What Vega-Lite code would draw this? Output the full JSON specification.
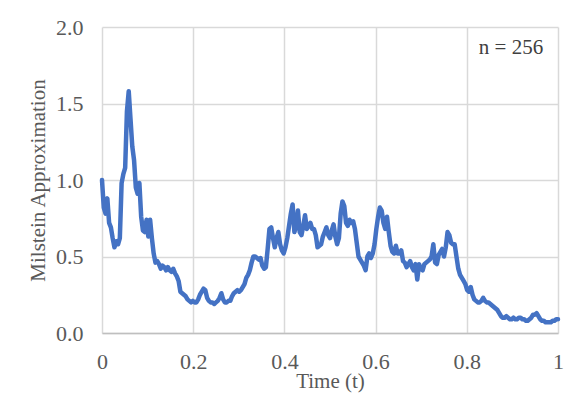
{
  "$schema": "https://vega.github.io/schema/vega-lite/v6.json",
  "autosize": {"type": "none"},
  "padding": {"left": 102, "top": 27, "right": 21, "bottom": 61},
  "width": 456,
  "height": 306,
  "background": "white",
  "config": {
    "font": "Liberation Serif",
    "view": {"stroke": null},
    "axis": {
      "labelFont": "Liberation Serif",
      "titleFont": "Liberation Serif",
      "labelColor": "#595959",
      "titleColor": "#595959",
      "titleFontWeight": "normal",
      "gridColor": "#d9d9d9",
      "gridWidth": 1.5,
      "ticks": false
    }
  },
  "layer": [
    {
      "data": {
        "values": [
          {"t":0,"y":1.00},{"t":0.0039,"y":0.82},{"t":0.0078,"y":0.78},{"t":0.0117,"y":0.88},{"t":0.0156,"y":0.72},
          {"t":0.0195,"y":0.69},{"t":0.0234,"y":0.62},{"t":0.0273,"y":0.56},{"t":0.0313,"y":0.60},{"t":0.0352,"y":0.58},
          {"t":0.0391,"y":0.62},{"t":0.043,"y":0.98},{"t":0.0469,"y":1.04},{"t":0.0508,"y":1.08},{"t":0.0547,"y":1.45},
          {"t":0.0586,"y":1.58},{"t":0.0625,"y":1.40},{"t":0.0664,"y":1.22},{"t":0.0703,"y":1.13},{"t":0.0742,"y":0.95},
          {"t":0.0781,"y":0.91},{"t":0.082,"y":0.98},{"t":0.0859,"y":0.76},{"t":0.0898,"y":0.67},{"t":0.0938,"y":0.66},
          {"t":0.0977,"y":0.74},{"t":0.1016,"y":0.63},{"t":0.1055,"y":0.74},{"t":0.1094,"y":0.62},{"t":0.1133,"y":0.52},
          {"t":0.1172,"y":0.46},{"t":0.1211,"y":0.47},{"t":0.125,"y":0.45},{"t":0.1289,"y":0.42},{"t":0.1328,"y":0.44},
          {"t":0.1367,"y":0.43},{"t":0.1406,"y":0.41},{"t":0.1445,"y":0.43},{"t":0.1484,"y":0.41},{"t":0.1523,"y":0.40},
          {"t":0.1563,"y":0.42},{"t":0.1602,"y":0.39},{"t":0.1641,"y":0.37},{"t":0.168,"y":0.34},{"t":0.1719,"y":0.27},
          {"t":0.1758,"y":0.26},{"t":0.1797,"y":0.25},{"t":0.1836,"y":0.24},{"t":0.1875,"y":0.22},{"t":0.1914,"y":0.21},
          {"t":0.1953,"y":0.20},{"t":0.1992,"y":0.21},{"t":0.2031,"y":0.20},{"t":0.207,"y":0.20},{"t":0.2109,"y":0.22},
          {"t":0.2148,"y":0.25},{"t":0.2188,"y":0.27},{"t":0.2227,"y":0.29},{"t":0.2266,"y":0.28},{"t":0.2305,"y":0.23},
          {"t":0.2344,"y":0.21},{"t":0.2383,"y":0.20},{"t":0.2422,"y":0.20},{"t":0.2461,"y":0.19},{"t":0.25,"y":0.20},
          {"t":0.2539,"y":0.21},{"t":0.2578,"y":0.23},{"t":0.2617,"y":0.26},{"t":0.2656,"y":0.22},{"t":0.2695,"y":0.20},
          {"t":0.2734,"y":0.20},{"t":0.2773,"y":0.21},{"t":0.2813,"y":0.21},{"t":0.2852,"y":0.24},{"t":0.2891,"y":0.26},
          {"t":0.293,"y":0.27},{"t":0.2969,"y":0.28},{"t":0.3008,"y":0.27},{"t":0.3047,"y":0.28},{"t":0.3086,"y":0.30},
          {"t":0.3125,"y":0.32},{"t":0.3164,"y":0.36},{"t":0.3203,"y":0.38},{"t":0.3242,"y":0.41},{"t":0.3281,"y":0.46},
          {"t":0.332,"y":0.50},{"t":0.3359,"y":0.50},{"t":0.3398,"y":0.49},{"t":0.3438,"y":0.48},{"t":0.3477,"y":0.49},
          {"t":0.3516,"y":0.44},{"t":0.3555,"y":0.42},{"t":0.3594,"y":0.43},{"t":0.3633,"y":0.55},{"t":0.3672,"y":0.68},
          {"t":0.3711,"y":0.69},{"t":0.375,"y":0.62},{"t":0.3789,"y":0.56},{"t":0.3828,"y":0.62},{"t":0.3867,"y":0.66},
          {"t":0.3906,"y":0.58},{"t":0.3945,"y":0.54},{"t":0.3984,"y":0.52},{"t":0.4023,"y":0.56},{"t":0.4063,"y":0.62},
          {"t":0.4102,"y":0.70},{"t":0.4141,"y":0.78},{"t":0.418,"y":0.84},{"t":0.4219,"y":0.66},{"t":0.4258,"y":0.70},
          {"t":0.4297,"y":0.80},{"t":0.4336,"y":0.66},{"t":0.4375,"y":0.64},{"t":0.4414,"y":0.70},{"t":0.4453,"y":0.77},
          {"t":0.4492,"y":0.68},{"t":0.4531,"y":0.70},{"t":0.457,"y":0.72},{"t":0.4609,"y":0.68},{"t":0.4648,"y":0.68},
          {"t":0.4688,"y":0.64},{"t":0.4727,"y":0.56},{"t":0.4766,"y":0.57},{"t":0.4805,"y":0.58},{"t":0.4844,"y":0.63},
          {"t":0.4883,"y":0.66},{"t":0.4922,"y":0.69},{"t":0.4961,"y":0.64},{"t":0.5,"y":0.62},{"t":0.5039,"y":0.67},
          {"t":0.5078,"y":0.71},{"t":0.5117,"y":0.63},{"t":0.5156,"y":0.58},{"t":0.5195,"y":0.62},{"t":0.5234,"y":0.78},
          {"t":0.5273,"y":0.86},{"t":0.5313,"y":0.83},{"t":0.5352,"y":0.72},{"t":0.5391,"y":0.70},{"t":0.543,"y":0.74},
          {"t":0.5469,"y":0.72},{"t":0.5508,"y":0.73},{"t":0.5547,"y":0.68},{"t":0.5586,"y":0.59},{"t":0.5625,"y":0.50},
          {"t":0.5664,"y":0.48},{"t":0.5703,"y":0.46},{"t":0.5742,"y":0.44},{"t":0.5781,"y":0.41},{"t":0.582,"y":0.50},
          {"t":0.5859,"y":0.52},{"t":0.5898,"y":0.49},{"t":0.5938,"y":0.52},{"t":0.5977,"y":0.58},{"t":0.6016,"y":0.68},
          {"t":0.6055,"y":0.76},{"t":0.6094,"y":0.82},{"t":0.6133,"y":0.80},{"t":0.6172,"y":0.72},{"t":0.6211,"y":0.68},
          {"t":0.625,"y":0.76},{"t":0.6289,"y":0.66},{"t":0.6328,"y":0.57},{"t":0.6367,"y":0.53},{"t":0.6406,"y":0.52},
          {"t":0.6445,"y":0.57},{"t":0.6484,"y":0.52},{"t":0.6523,"y":0.52},{"t":0.6563,"y":0.54},{"t":0.6602,"y":0.47},
          {"t":0.6641,"y":0.46},{"t":0.668,"y":0.43},{"t":0.6719,"y":0.45},{"t":0.6758,"y":0.47},{"t":0.6797,"y":0.43},
          {"t":0.6836,"y":0.41},{"t":0.6875,"y":0.45},{"t":0.6914,"y":0.35},{"t":0.6953,"y":0.45},{"t":0.6992,"y":0.42},
          {"t":0.7031,"y":0.41},{"t":0.707,"y":0.45},{"t":0.7109,"y":0.46},{"t":0.7148,"y":0.47},{"t":0.7188,"y":0.48},
          {"t":0.7227,"y":0.50},{"t":0.7266,"y":0.58},{"t":0.7305,"y":0.46},{"t":0.7344,"y":0.45},{"t":0.7383,"y":0.51},
          {"t":0.7422,"y":0.53},{"t":0.7461,"y":0.55},{"t":0.75,"y":0.50},{"t":0.7539,"y":0.56},{"t":0.7578,"y":0.66},
          {"t":0.7617,"y":0.64},{"t":0.7656,"y":0.59},{"t":0.7695,"y":0.58},{"t":0.7734,"y":0.58},{"t":0.7773,"y":0.50},
          {"t":0.7813,"y":0.42},{"t":0.7852,"y":0.38},{"t":0.7891,"y":0.36},{"t":0.793,"y":0.34},{"t":0.7969,"y":0.32},
          {"t":0.8008,"y":0.28},{"t":0.8047,"y":0.27},{"t":0.8086,"y":0.30},{"t":0.8125,"y":0.25},{"t":0.8164,"y":0.22},
          {"t":0.8203,"y":0.21},{"t":0.8242,"y":0.20},{"t":0.8281,"y":0.20},{"t":0.832,"y":0.21},{"t":0.8359,"y":0.23},
          {"t":0.8398,"y":0.21},{"t":0.8438,"y":0.20},{"t":0.8477,"y":0.20},{"t":0.8516,"y":0.19},{"t":0.8555,"y":0.18},
          {"t":0.8594,"y":0.17},{"t":0.8633,"y":0.16},{"t":0.8672,"y":0.15},{"t":0.8711,"y":0.13},{"t":0.875,"y":0.11},
          {"t":0.8789,"y":0.10},{"t":0.8828,"y":0.10},{"t":0.8867,"y":0.11},{"t":0.8906,"y":0.10},{"t":0.8945,"y":0.09},
          {"t":0.8984,"y":0.09},{"t":0.9023,"y":0.10},{"t":0.9063,"y":0.09},{"t":0.9102,"y":0.09},{"t":0.9141,"y":0.10},
          {"t":0.918,"y":0.10},{"t":0.9219,"y":0.09},{"t":0.9258,"y":0.09},{"t":0.9297,"y":0.08},{"t":0.9336,"y":0.08},
          {"t":0.9375,"y":0.09},{"t":0.9414,"y":0.10},{"t":0.9453,"y":0.12},{"t":0.9492,"y":0.12},{"t":0.9531,"y":0.13},
          {"t":0.957,"y":0.11},{"t":0.9609,"y":0.09},{"t":0.9648,"y":0.08},{"t":0.9688,"y":0.08},{"t":0.9727,"y":0.07},
          {"t":0.9766,"y":0.07},{"t":0.9805,"y":0.07},{"t":0.9844,"y":0.07},{"t":0.9883,"y":0.08},{"t":0.9922,"y":0.08},
          {"t":0.9961,"y":0.09},{"t":1,"y":0.09}
        ]
      },
      "mark": {"type": "line", "color": "#4472C4", "strokeWidth": 4.5, "strokeJoin": "round", "strokeCap": "round"},
      "encoding": {
        "x": {
          "field": "t", "type": "quantitative",
          "scale": {"domain": [0, 1], "nice": false, "zero": false},
          "axis": {
            "values": [0, 0.2, 0.4, 0.6, 0.8, 1],
            "format": "~g",
            "title": "Time (t)",
            "labelFontSize": 22,
            "titleFontSize": 21,
            "labelPadding": 18,
            "labelFlush": false,
            "titlePadding": -2,
            "domainColor": "#bfbfbf",
            "domainWidth": 1.5,
            "grid": true
          }
        },
        "y": {
          "field": "y", "type": "quantitative",
          "scale": {"domain": [0, 2], "nice": false},
          "axis": {
            "values": [0, 0.5, 1, 1.5, 2],
            "format": ".1f",
            "title": "Milstein Approximation",
            "labelFontSize": 22,
            "titleFontSize": 21,
            "labelPadding": 19,
            "titlePadding": 7,
            "domain": false,
            "grid": true
          }
        }
      }
    },
    {
      "data": {"values": [{"label": "n = 256"}]},
      "mark": {"type": "text", "font": "Liberation Serif", "fontSize": 21, "color": "#404040", "align": "center", "baseline": "middle"},
      "encoding": {
        "x": {"datum": 0.897, "type": "quantitative"},
        "y": {"datum": 1.86, "type": "quantitative"},
        "text": {"field": "label"}
      }
    }
  ]
}
